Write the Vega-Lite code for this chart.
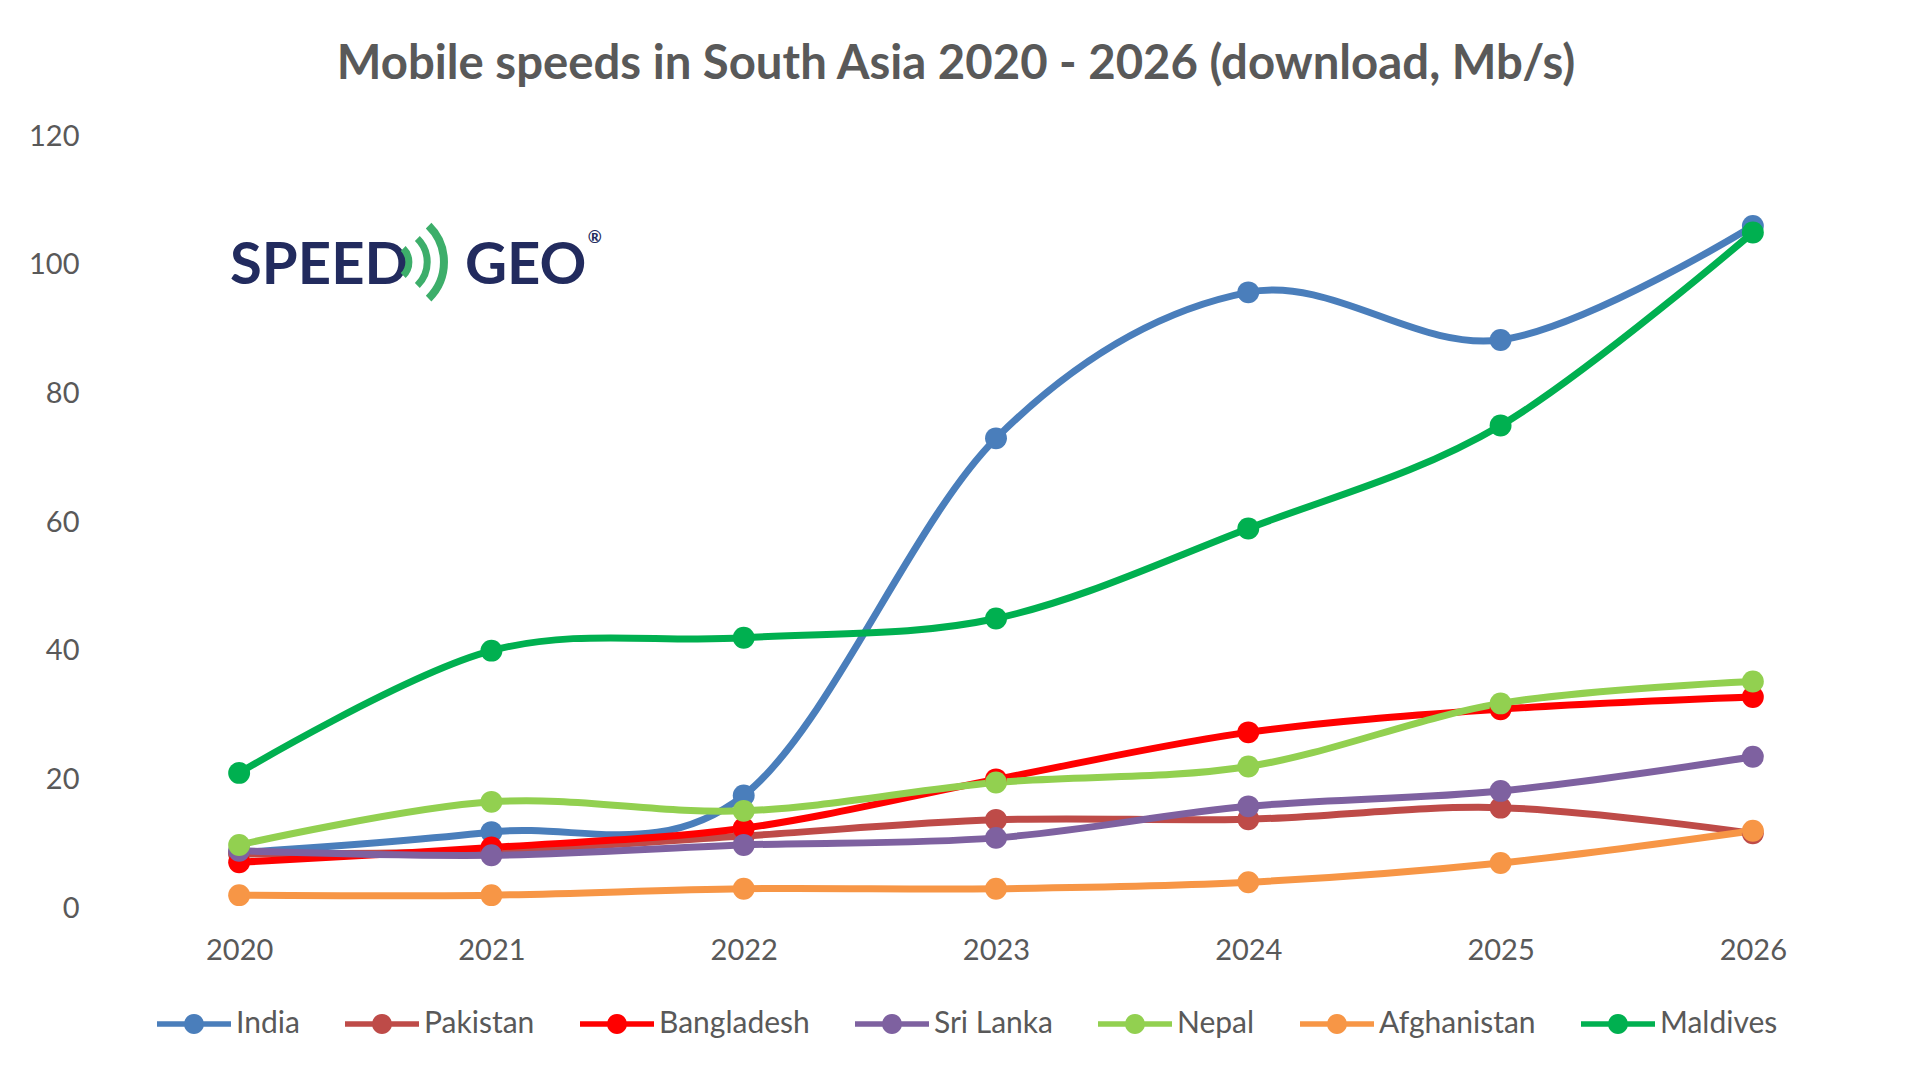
{
  "$schema": "https://vega.github.io/schema/vega-lite/v6.json",
  "autosize": "none",
  "width": 1766,
  "height": 772,
  "padding": {"left": 113, "top": 136, "right": 41, "bottom": 169},
  "background": "white",
  "title": {
    "text": "Mobile speeds in South Asia 2020 - 2026 (download, Mb/s)",
    "font": "Lato",
    "fontSize": 47.3,
    "fontWeight": "bold",
    "color": "#595959",
    "anchor": "middle",
    "dx": -40,
    "offset": 33
  },
  "datasets": {
    "speeds": [
      {"year": 2020, "country": "India", "speed": 8.6},
      {"year": 2021, "country": "India", "speed": 11.8},
      {"year": 2022, "country": "India", "speed": 17.5},
      {"year": 2023, "country": "India", "speed": 73},
      {"year": 2024, "country": "India", "speed": 95.7},
      {"year": 2025, "country": "India", "speed": 88.3},
      {"year": 2026, "country": "India", "speed": 106},
      {"year": 2020, "country": "Pakistan", "speed": 8.4},
      {"year": 2021, "country": "Pakistan", "speed": 8.9},
      {"year": 2022, "country": "Pakistan", "speed": 11.2},
      {"year": 2023, "country": "Pakistan", "speed": 13.7},
      {"year": 2024, "country": "Pakistan", "speed": 13.8},
      {"year": 2025, "country": "Pakistan", "speed": 15.6},
      {"year": 2026, "country": "Pakistan", "speed": 11.6},
      {"year": 2020, "country": "Bangladesh", "speed": 7.1},
      {"year": 2021, "country": "Bangladesh", "speed": 9.4},
      {"year": 2022, "country": "Bangladesh", "speed": 12.4},
      {"year": 2023, "country": "Bangladesh", "speed": 20},
      {"year": 2024, "country": "Bangladesh", "speed": 27.3},
      {"year": 2025, "country": "Bangladesh", "speed": 30.9},
      {"year": 2026, "country": "Bangladesh", "speed": 32.8},
      {"year": 2020, "country": "Sri Lanka", "speed": 8.9},
      {"year": 2021, "country": "Sri Lanka", "speed": 8.2},
      {"year": 2022, "country": "Sri Lanka", "speed": 9.8},
      {"year": 2023, "country": "Sri Lanka", "speed": 10.9},
      {"year": 2024, "country": "Sri Lanka", "speed": 15.8},
      {"year": 2025, "country": "Sri Lanka", "speed": 18.2},
      {"year": 2026, "country": "Sri Lanka", "speed": 23.5},
      {"year": 2020, "country": "Nepal", "speed": 9.8},
      {"year": 2021, "country": "Nepal", "speed": 16.5},
      {"year": 2022, "country": "Nepal", "speed": 15.1},
      {"year": 2023, "country": "Nepal", "speed": 19.5},
      {"year": 2024, "country": "Nepal", "speed": 22},
      {"year": 2025, "country": "Nepal", "speed": 31.8},
      {"year": 2026, "country": "Nepal", "speed": 35.2},
      {"year": 2020, "country": "Afghanistan", "speed": 2},
      {"year": 2021, "country": "Afghanistan", "speed": 2},
      {"year": 2022, "country": "Afghanistan", "speed": 3},
      {"year": 2023, "country": "Afghanistan", "speed": 3},
      {"year": 2024, "country": "Afghanistan", "speed": 4},
      {"year": 2025, "country": "Afghanistan", "speed": 7},
      {"year": 2026, "country": "Afghanistan", "speed": 12},
      {"year": 2020, "country": "Maldives", "speed": 21},
      {"year": 2021, "country": "Maldives", "speed": 40},
      {"year": 2022, "country": "Maldives", "speed": 42},
      {"year": 2023, "country": "Maldives", "speed": 45},
      {"year": 2024, "country": "Maldives", "speed": 59},
      {"year": 2025, "country": "Maldives", "speed": 75},
      {"year": 2026, "country": "Maldives", "speed": 105}
    ],
    "logo": [
      {"part": "SPEED"},
      {"part": "GEO"},
      {"part": "®"}
    ]
  },
  "layer": [
    {
      "data": {"name": "logo"},
      "transform": [{"filter": "datum.part === 'SPEED'"}],
      "mark": {"type": "rect", "color": "white"},
      "encoding": {
        "x": {
          "datum": 2019.86,
          "type": "quantitative",
          "scale": {"domain": [2019.5, 2026.5], "nice": false, "zero": false},
          "axis": {
            "title": null,
            "values": [2020, 2021, 2022, 2023, 2024, 2025, 2026],
            "format": "d",
            "grid": false,
            "domain": false,
            "ticks": false,
            "labelPadding": 28
          }
        },
        "x2": {"datum": 2021.47},
        "y": {
          "datum": 98.5,
          "type": "quantitative",
          "scale": {"domain": [0, 120], "nice": false},
          "axis": {
            "title": null,
            "values": [0, 20, 40, 60, 80, 100, 120],
            "domain": false,
            "ticks": false,
            "labelPadding": 34
          }
        },
        "y2": {"datum": 101.5}
      }
    },
    {
      "data": {"name": "speeds"},
      "mark": {
        "type": "line",
        "interpolate": "cardinal",
        "strokeWidth": 7,
        "strokeCap": "round",
        "strokeJoin": "round"
      },
      "encoding": {
        "x": {"field": "year", "type": "quantitative"},
        "y": {"field": "speed", "type": "quantitative"},
        "color": {
          "field": "country",
          "type": "nominal",
          "scale": {
            "domain": ["India", "Pakistan", "Bangladesh", "Sri Lanka", "Nepal", "Afghanistan", "Maldives"],
            "range": ["#4A7EBB", "#BE4B48", "#FF0000", "#7E61A0", "#92D050", "#F79646", "#00B050"]
          },
          "legend": {
            "title": null,
            "orient": "none",
            "legendX": 44,
            "legendY": 851,
            "direction": "horizontal",
            "padding": 0,
            "symbolType": "M-1,-0.075L1,-0.075L1,0.075L-1,0.075Z M0.27,0A0.27,0.27 0 1 1 -0.27,0A0.27,0.27 0 1 1 0.27,0Z",
            "symbolSize": 5476,
            "symbolStrokeWidth": 0,
            "symbolFillColor": "black",
            "labelFont": "Lato",
            "labelFontSize": 30,
            "labelColor": "#595959",
            "labelOffset": 5,
            "columnPadding": 45,
            "labelLimit": 400
          }
        }
      }
    },
    {
      "data": {"name": "speeds"},
      "mark": {"type": "point", "filled": true, "opacity": 1, "size": 480, "shape": "circle"},
      "encoding": {
        "x": {"field": "year", "type": "quantitative"},
        "y": {"field": "speed", "type": "quantitative"},
        "color": {"field": "country", "type": "nominal", "legend": null}
      }
    },
    {
      "data": {"name": "logo"},
      "transform": [{"filter": "datum.part === 'SPEED'"}],
      "mark": {"type": "text", "font": "Lato", "fontSize": 58, "fontWeight": "bold", "fill": "#222B5E", "align": "left", "baseline": "alphabetic"},
      "encoding": {
        "x": {"datum": 2019.964, "type": "quantitative"},
        "y": {"datum": 96.95, "type": "quantitative"},
        "text": {"field": "part", "type": "nominal"}
      }
    },
    {
      "data": {"name": "logo"},
      "transform": [{"filter": "datum.part === 'GEO'"}],
      "mark": {"type": "text", "font": "Lato", "fontSize": 58, "fontWeight": "bold", "fill": "#222B5E", "align": "left", "baseline": "alphabetic"},
      "encoding": {
        "x": {"datum": 2020.895, "type": "quantitative"},
        "y": {"datum": 96.95, "type": "quantitative"},
        "text": {"field": "part", "type": "nominal"}
      }
    },
    {
      "data": {"name": "logo"},
      "transform": [{"filter": "datum.part === '®'"}],
      "mark": {"type": "text", "font": "Lato", "fontSize": 17, "fontWeight": "bold", "fill": "#222B5E", "align": "center", "baseline": "middle"},
      "encoding": {
        "x": {"datum": 2021.41, "type": "quantitative"},
        "y": {"datum": 104.1, "type": "quantitative"},
        "text": {"field": "part", "type": "nominal"}
      }
    },
    {
      "data": {"name": "logo"},
      "transform": [{"filter": "datum.part === 'SPEED'"}],
      "mark": {"type": "point", "shape": "M-0.2,-1A1.4,1.4 0 0 1 -0.2,1", "filled": false, "opacity": 1, "strokeWidth": 7, "color": "#3DAE6A", "size": 729},
      "encoding": {"x": {"datum": 2020.661, "type": "quantitative"}, "y": {"datum": 100.4, "type": "quantitative"}}
    },
    {
      "data": {"name": "logo"},
      "transform": [{"filter": "datum.part === 'SPEED'"}],
      "mark": {"type": "point", "shape": "M-0.2,-1A1.4,1.4 0 0 1 -0.2,1", "filled": false, "opacity": 1, "strokeWidth": 7, "color": "#3DAE6A", "size": 2209},
      "encoding": {"x": {"datum": 2020.725, "type": "quantitative"}, "y": {"datum": 100.4, "type": "quantitative"}}
    },
    {
      "data": {"name": "logo"},
      "transform": [{"filter": "datum.part === 'SPEED'"}],
      "mark": {"type": "point", "shape": "M-0.2,-1A1.4,1.4 0 0 1 -0.2,1", "filled": false, "opacity": 1, "strokeWidth": 8, "color": "#3DAE6A", "size": 5329},
      "encoding": {"x": {"datum": 2020.78, "type": "quantitative"}, "y": {"datum": 100.4, "type": "quantitative"}}
    }
  ],
  "config": {
    "font": "Lato",
    "view": {"stroke": null},
    "axis": {
      "labelFont": "Lato",
      "labelFontSize": 29,
      "labelColor": "#595959",
      "gridColor": "#D9D9D9",
      "gridWidth": 2
    }
  }
}
